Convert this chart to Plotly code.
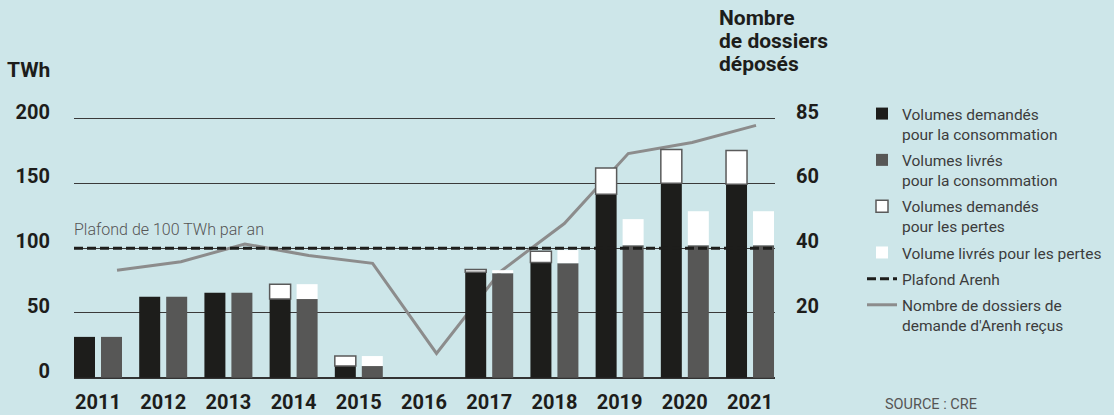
import plotly.graph_objects as go

# ---------------- data ----------------
years = [2011, 2012, 2013, 2014, 2015, 2016, 2017, 2018, 2019, 2020, 2021]
year_labels = [str(y) for y in years]

# TWh
dem_conso = [31.5, 62.5, 65.5, 60.7, 9.0, 0.0, 81.3, 89.0, 141.6, 150.1, 149.3]
dem_pertes = [None, None, None, 11.5, 7.7, None, 2.3, 8.7, 20.3, 26.0, 26.0]
liv_conso = [31.5, 62.5, 65.5, 60.7, 9.0, 0.0, 80.7, 88.4, 102.3, 102.3, 102.3]
liv_pertes = [None, None, None, 11.5, 7.7, None, 2.3, 10.1, 20.1, 26.2, 26.2]

# Nombre de dossiers
dossiers = [33.2, 35.8, 41.3, 37.7, 35.3, 7.5, 32.8, 47.6, 69.2, 72.6, 77.9]

plafond = 100
twh_ticks = [0, 50, 100, 150, 200]
dossier_ticks = [20, 40, 60, 80]
dossier_labels = ["20", "40", "60", "85"]

# ---------------- styles ----------------
BG = "#cde6e9"
BLACK = "#1d1d1b"
GRAY = "#575756"
WHITE = "#ffffff"
LINE = "#8c8c8c"
GRID = "#3a3a3a"
TXT = "#1d1d1b"
FONT = "Roboto"

L, R, T, B = 74, 339, 116, 36
W, H = 1114, 415
PW, PH = W - L - R, H - T - B

bar_range = [2010.632, 2021.383]
line_range = [2010.327, 2021.297]
twh_range = [-1, 202]
dos_range = [twh_range[0] / 2.5, twh_range[1] / 2.5]

BW = 0.322
OFF_DEM = -0.368
OFF_LIV = 0.046


def px_x(px):
    return (px - L) / PW


def px_y(py):
    return (H - B - py) / PH


fig = go.Figure()

fig.add_trace(go.Bar(
    x=years, y=dem_conso, name="Volumes demandés<br>pour la consommation",
    marker=dict(color=BLACK, line=dict(width=0)), width=BW, offset=OFF_DEM,
    xaxis="x2", yaxis="y2", legendgroup="a", hoverinfo="skip"))
fig.add_trace(go.Bar(
    x=years, y=liv_conso, name="Volumes livrés<br>pour la consommation",
    marker=dict(color=GRAY, line=dict(width=0)), width=BW, offset=OFF_LIV,
    xaxis="x2", yaxis="y2", legendgroup="b", hoverinfo="skip"))
fig.add_trace(go.Bar(
    x=years, y=dem_pertes, base=dem_conso, name="Volumes demandés<br>pour les pertes",
    marker=dict(color=WHITE, line=dict(width=1.5, color="#5a5a5a")), width=BW, offset=OFF_DEM,
    xaxis="x2", yaxis="y2", legendgroup="c", hoverinfo="skip"))
fig.add_trace(go.Bar(
    x=years, y=liv_pertes, base=liv_conso, name="Volume livrés pour les pertes",
    marker=dict(color=WHITE, line=dict(width=0)), width=BW, offset=OFF_LIV,
    xaxis="x2", yaxis="y2", legendgroup="d", hoverinfo="skip"))
fig.add_trace(go.Scatter(
    x=bar_range, y=[plafond, plafond], mode="lines", name="Plafond Arenh",
    line=dict(color=BLACK, width=3, dash="9px,4px"),
    xaxis="x2", yaxis="y2", legendgroup="e", hoverinfo="skip"))
fig.add_trace(go.Scatter(
    x=years, y=dossiers, mode="lines", name="Nombre de dossiers de<br>demande d'Arenh reçus",
    line=dict(color=LINE, width=3), xaxis="x", yaxis="y", legendgroup="f", hoverinfo="skip"))

tickfont = dict(family=FONT, size=20, color=TXT, weight=700)

fig.update_layout(
    width=W, height=H,
    margin=dict(l=L, r=R, t=T, b=B, autoexpand=False),
    paper_bgcolor=BG, plot_bgcolor=BG,
    barmode="overlay",
    showlegend=True,
    legend=dict(
        x=px_x(862), y=px_y(97), xanchor="left", yanchor="top",
        bgcolor="rgba(0,0,0,0)", traceorder="grouped", tracegroupgap=3,
        valign="top", itemclick=False, maxheight=400,
        font=dict(family=FONT, size=15.5, color="#3c3c3c"),
    ),
    xaxis=dict(range=line_range, visible=False, fixedrange=True),
    yaxis=dict(range=dos_range, side="right", tickvals=dossier_ticks, ticktext=dossier_labels,
               showgrid=False, zeroline=False, showline=False, ticks="",
               ticklabelstandoff=20, ticklabelshift=-7, tickfont=tickfont, fixedrange=True),
    xaxis2=dict(range=bar_range, overlaying="x", anchor="y2", side="bottom",
                tickvals=years, ticktext=year_labels, showgrid=False, zeroline=False,
                showline=False, ticks="", ticklabelstandoff=9, tickfont=tickfont, fixedrange=True),
    yaxis2=dict(range=twh_range, overlaying="y", anchor="x2", side="left",
                tickvals=twh_ticks, showgrid=True, gridcolor=GRID, gridwidth=1,
                zeroline=True, zerolinecolor="#333333", zerolinewidth=1.5,
                showline=False, ticks="", ticklabelstandoff=23, ticklabelshift=-7,
                tickfont=tickfont, fixedrange=True),
)

annots = [
    dict(text="TWh", x=px_x(52), y=px_y(70.5), xanchor="right", yanchor="middle",
         font=dict(family=FONT, size=21, color=TXT, weight=700)),
    dict(text="Nombre", x=px_x(717), y=px_y(17.5), xanchor="left", yanchor="middle",
         font=dict(family=FONT, size=21, color=TXT, weight=700)),
    dict(text="de dossiers", x=px_x(717), y=px_y(41.5), xanchor="left", yanchor="middle",
         font=dict(family=FONT, size=21, color=TXT, weight=700)),
    dict(text="déposés", x=px_x(717), y=px_y(64.5), xanchor="left", yanchor="middle",
         font=dict(family=FONT, size=21, color=TXT, weight=700)),
    dict(text="Plafond de 100 TWh par an", x=px_x(72), y=px_y(229), xanchor="left", yanchor="middle",
         font=dict(family=FONT, size=16, color="#555555", weight=300)),
    dict(text="SOURCE : CRE", x=px_x(883), y=px_y(404.5), xanchor="left", yanchor="middle",
         font=dict(family=FONT, size=14.5, color="#555555")),
]
for a in annots:
    a.update(xref="paper", yref="paper", showarrow=False)
fig.update_layout(annotations=annots)

fig.write_html(
    "out.html",
    config={"displayModeBar": False},
    post_script="document.body.style.margin='0';document.body.style.overflow='hidden';",
)
